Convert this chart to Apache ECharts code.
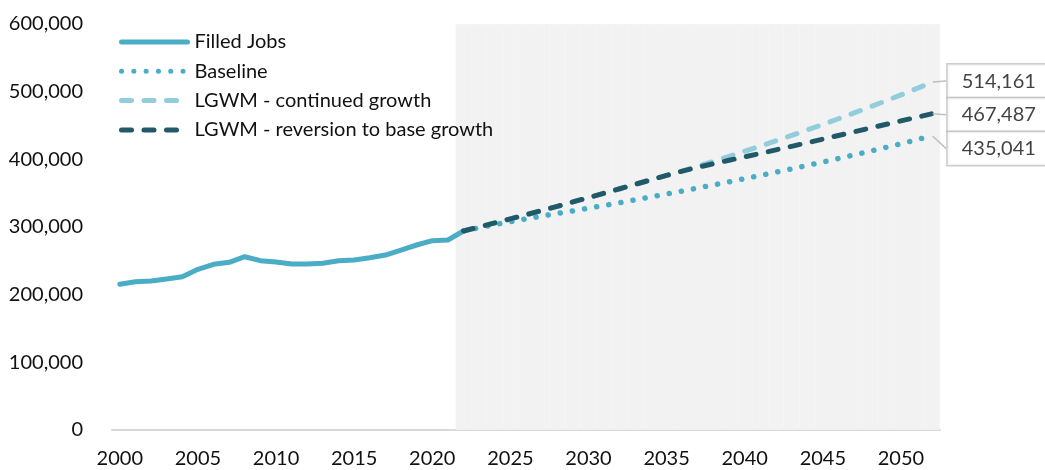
<!DOCTYPE html>
<html>
<head>
<meta charset="utf-8">
<script src="https://cdn.jsdelivr.net/npm/echarts@6/dist/echarts.min.js"></script>
<style>
  html, body { margin: 0; padding: 0; background: #ffffff; }
  #chart { width: 1045px; height: 470px; }
</style>
</head>
<body>
<div id="chart"></div>
<script>
// Category years shown on the horizontal axis
const years = [
  2000, 2001, 2002, 2003, 2004, 2005, 2006, 2007, 2008, 2009,
  2010, 2011, 2012, 2013, 2014, 2015, 2016, 2017, 2018, 2019,
  2020, 2021, 2022, 2023, 2024, 2025, 2026, 2027, 2028, 2029,
  2030, 2031, 2032, 2033, 2034, 2035, 2036, 2037, 2038, 2039,
  2040, 2041, 2042, 2043, 2044, 2045, 2046, 2047, 2048, 2049,
  2050, 2051, 2052
];

// Historical filled jobs, 2000-2022
const filledJobsStart = 2000;
const filledJobs = [
  215300, 219200, 220200, 223100, 226500, 237500, 244900, 247800, 256100, 250200,
  248300, 245300, 245300, 246400, 250200, 251200, 254600, 258600, 266000, 273400,
  279800, 280800, 294100
];

// Projections, 2022-2052
const projectionStart = 2022;
const baseline = [
  294100, 299000, 303600, 307900, 312000, 316000, 319900, 323800, 327800, 331800,
  335900, 340100, 344400, 348700, 353100, 357600, 362100, 366700, 371400, 376200,
  381000, 385900, 390900, 396000, 401200, 406500, 411900, 417400, 423000, 428900,
  435041
];
const continuedGrowth = [
  294100, 300000, 306000, 312000, 318100, 324300, 330600, 337000, 343400, 349900,
  356500, 363100, 369800, 376400, 382600, 389700, 397000, 404400, 411900, 419600,
  427400, 435300, 443400, 451600, 460000, 468600, 477300, 486200, 495200, 504500,
  514161
];
const reversionGrowth = [
  294100, 300000, 306000, 312000, 318100, 324300, 330600, 337000, 343400, 349900,
  356500, 363100, 369800, 376400, 382600, 388200, 393500, 398600, 403700, 408800,
  414000, 419200, 424500, 429800, 435200, 440600, 446000, 451400, 456800, 462100,
  467487
];

// Value axis range and the label step on the year axis
const yMin = 0;
const yMax = 600000;
const yInterval = 100000;
const yearLabelStep = 5;

const FONT = 'Lato, "Open Sans", sans-serif';
const FONT_SIZE = 20;
const TEXT_COLOR = '#111111';

const categories = years.map(String);

// Place a run of values that starts at startYear onto the full year list
function alignToYears(values, startYear) {
  return years.map(function (y) {
    const i = y - startYear;
    return (i >= 0 && i < values.length) ? values[i] : null;
  });
}

// Shaded forecast period: one full-height bar per projected year
const forecastBand = years.map(function (y) { return y >= projectionStart ? yMax : null; });

const lastYear = String(projectionStart + baseline.length - 1);
const callouts = [
  [lastYear, continuedGrowth[continuedGrowth.length - 1]],
  [lastYear, reversionGrowth[reversionGrowth.length - 1]],
  [lastYear, baseline[baseline.length - 1]]
];
const calloutShift = [-1, 1, 13];

function fmt(v) { return Number(v).toLocaleString('en-US'); }

const chart = echarts.init(document.getElementById('chart'), null, { renderer: 'canvas' });

chart.setOption({
  animation: false,
  backgroundColor: '#ffffff',
  grid: { left: 112, right: 105, top: 24, bottom: 40, containLabel: false },
  legend: {
    orient: 'vertical',
    left: 119,
    top: 32,
    padding: 0,
    itemWidth: 66,
    itemHeight: 20,
    itemGap: 9.3,
    data: ['Filled Jobs', 'Baseline', 'LGWM - continued growth', 'LGWM - reversion to base growth'],
    itemStyle: { opacity: 0 },
    lineStyle: { width: 5 },
    textStyle: { fontFamily: FONT, fontSize: FONT_SIZE, color: TEXT_COLOR, lineHeight: 20, padding: [0, 0, 0, 2] },
    selectedMode: false
  },
  xAxis: {
    type: 'category',
    data: categories,
    boundaryGap: true,
    axisTick: { show: false },
    axisLine: { show: true, lineStyle: { color: '#d9d9d9', width: 2 } },
    axisLabel: {
      interval: function (index, value) { return Number(value) % yearLabelStep === 0; },
      margin: 19,
      fontFamily: FONT,
      fontSize: FONT_SIZE,
      color: TEXT_COLOR
    },
    splitLine: { show: false }
  },
  yAxis: {
    type: 'value',
    min: yMin,
    max: yMax,
    interval: yInterval,
    axisLine: { show: false },
    axisTick: { show: false },
    splitLine: { show: false },
    axisLabel: {
      margin: 29,
      fontFamily: FONT,
      fontSize: FONT_SIZE,
      color: TEXT_COLOR,
      formatter: fmt
    }
  },
  series: [
    {
      name: 'Forecast period',
      type: 'bar',
      data: forecastBand,
      barCategoryGap: '0%',
      barGap: '0%',
      silent: true,
      itemStyle: { color: '#f2f2f2', borderColor: '#f2f2f2', borderWidth: 0.6 },
      z: 0
    },
    {
      name: 'Filled Jobs',
      type: 'line',
      data: alignToYears(filledJobs, filledJobsStart),
      symbol: 'none',
      color: '#4bacc6',
      lineStyle: { color: '#4bacc6', width: 5, cap: 'round', join: 'round' },
      z: 2
    },
    {
      name: 'Baseline',
      type: 'line',
      data: alignToYears(baseline, projectionStart),
      symbol: 'none',
      color: '#4bacc6',
      lineStyle: { color: '#4bacc6', width: 5.5, type: [0.1, 12.2], cap: 'round', join: 'round' },
      z: 3
    },
    {
      name: 'LGWM - continued growth',
      type: 'line',
      data: alignToYears(continuedGrowth, projectionStart),
      symbol: 'none',
      color: '#92cddc',
      lineStyle: { color: '#92cddc', width: 5, type: [10, 12.5], cap: 'round', join: 'round' },
      z: 4
    },
    {
      name: 'LGWM - reversion to base growth',
      type: 'line',
      data: alignToYears(reversionGrowth, projectionStart),
      symbol: 'none',
      color: '#215968',
      lineStyle: { color: '#215968', width: 5, type: [10, 12.5], cap: 'round', join: 'round' },
      z: 5
    },
    {
      name: 'End values',
      type: 'scatter',
      data: callouts,
      symbol: 'circle',
      symbolSize: 1,
      itemStyle: { color: 'rgba(0,0,0,0)' },
      silent: true,
      z: 6,
      label: {
        show: true,
        position: 'right',
        distance: 0,
        formatter: function (p) { return fmt(p.value[1]); },
        fontFamily: FONT,
        fontSize: FONT_SIZE,
        color: TEXT_COLOR,
        lineHeight: 24,
        backgroundColor: '#ffffff',
        borderColor: '#bfbfbf',
        borderWidth: 1.5,
        padding: [5, 20, 4, 14]
      },
      labelLine: { show: true, lineStyle: { color: '#bfbfbf', width: 1.5 } },
      labelLayout: function (params) {
        return { dx: 15, dy: calloutShift[params.dataIndex] };
      }
    }
  ]
});
</script>
</body>
</html>
